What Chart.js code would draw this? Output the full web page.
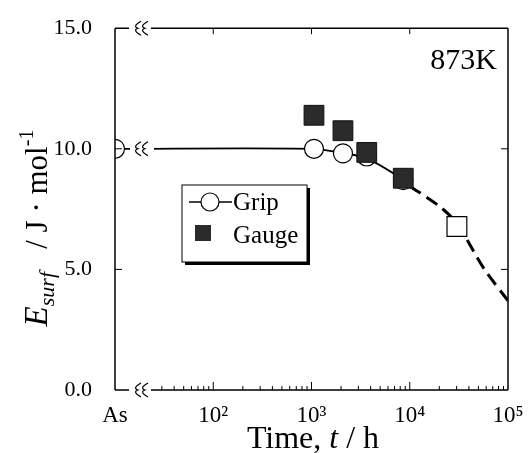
<!DOCTYPE html>
<html>
<head>
<meta charset="utf-8">
<script src="https://cdn.jsdelivr.net/npm/chart.js@4/dist/chart.umd.min.js"></script>
<style>
  html, body { margin: 0; padding: 0; background: #fff; }
  #wrap { width: 532px; height: 453px; }
</style>
</head>
<body>
<div id="wrap"><canvas id="chart" width="532" height="453"></canvas></div>
<script>
// x = 10 stands for the as-received ("As") state
const gripTimes = [10, 1060, 2090, 3650, 8590];
const gripValues = [10.0, 10.0, 9.81, 9.68, 8.7];
const gaugeTimes = [1060, 2090, 3650, 8590];
const gaugeValues = [11.39, 10.75, 9.85, 8.78];
const openTimes = [30200];
const openValues = [6.78];
const fitTimes = [10, 1060, 2090, 3650, 8590, 10000];
const fitValues = [10.0, 10.0, 9.82, 9.6, 8.72, 8.45];
const dashTimes = [10000, 20000, 30200, 57000, 100000];
const dashValues = [8.45, 7.62, 6.9, 5.03, 3.7];
const xTicks = [10, 100, 1000, 10000, 100000];
const xTickLabels = ['As', '10²', '10³', '10⁴', '10⁵'];
const yTicks = [0, 5, 10, 15];

const SERIF = '"Liberation Serif", "DejaVu Serif", serif';
const toPts = (xs, ys) => xs.map((x, i) => ({ x, y: ys[i] }));

// ------------------------------------------------------------
// Frame, inward ticks, axis breaks, legend, titles
// ------------------------------------------------------------
function breakMark(ctx, x, y) {
  ctx.save();
  ctx.lineWidth = 1.2;
  ctx.strokeStyle = '#000';
  [0, 7].forEach(dx => {
    ctx.beginPath();
    ctx.moveTo(x + dx + 4, y - 7);
    ctx.quadraticCurveTo(x + dx - 5, y - 2, x + dx + 1, y);
    ctx.quadraticCurveTo(x + dx - 5, y + 2, x + dx + 4, y + 7);
    ctx.stroke();
  });
  ctx.restore();
}

const framePlugin = {
  id: 'frame',
  afterDatasetsDraw(chart) {
    const { ctx, chartArea: a, scales: { y } } = chart;
    const bx = a.left + 25;

    // gap + break on the fitted line at the As level
    const ly = y.getPixelForValue(fitValues[0]);
    ctx.save();
    ctx.fillStyle = '#fff';
    ctx.fillRect(bx - 10, ly - 4, 24, 8);
    ctx.restore();
    breakMark(ctx, bx - 3, ly);
  },
  afterDraw(chart) {
    const { ctx, chartArea: a, scales: { x, y } } = chart;
    const bx = a.left + 25;
    ctx.save();
    ctx.strokeStyle = '#000';
    ctx.lineWidth = 1.5;
    ctx.beginPath();
    ctx.moveTo(a.left, a.top); ctx.lineTo(a.left, a.bottom);
    ctx.moveTo(a.right, a.top); ctx.lineTo(a.right, a.bottom);
    [a.top, a.bottom].forEach(yy => {
      ctx.moveTo(a.left, yy); ctx.lineTo(bx - 11, yy);
      ctx.moveTo(bx + 11, yy); ctx.lineTo(a.right, yy);
    });
    ctx.stroke();
    breakMark(ctx, bx - 3, a.top);
    breakMark(ctx, bx - 3, a.bottom);

    ctx.lineWidth = 1;
    ctx.beginPath();
    // bottom: majors + minors after the break
    for (let d = 1; d <= 4; d++) {
      for (let m = 1; m <= 9; m++) {
        const v = m * Math.pow(10, d);
        if (v < 30) continue;
        const px = x.getPixelForValue(v);
        const len = m === 1 ? 8 : 4;
        ctx.moveTo(px, a.bottom); ctx.lineTo(px, a.bottom - len);
      }
    }
    // top: majors only
    [100, 1000, 10000].forEach(v => {
      const px = x.getPixelForValue(v);
      ctx.moveTo(px, a.top); ctx.lineTo(px, a.top + 6);
    });
    // left / right
    [5, 10].forEach(v => {
      const py = y.getPixelForValue(v);
      ctx.moveTo(a.left, py); ctx.lineTo(a.left + 7, py);
      ctx.moveTo(a.right, py); ctx.lineTo(a.right - 7, py);
    });
    ctx.stroke();

    // temperature label
    ctx.fillStyle = '#000';
    ctx.font = '30px ' + SERIF;
    ctx.textAlign = 'right';
    ctx.textBaseline = 'alphabetic';
    ctx.fillText('873K', a.right - 11, a.top + 41);

    // legend box with shadow
    const lx = 182, ly = 185, lw = 125, lh = 77;
    ctx.fillStyle = '#000';
    ctx.fillRect(lx + 3, ly + 3, lw, lh);
    ctx.fillStyle = '#fff';
    ctx.fillRect(lx, ly, lw, lh);
    ctx.lineWidth = 1;
    ctx.strokeRect(lx, ly, lw, lh);
    // Grip entry
    ctx.beginPath();
    ctx.moveTo(lx + 7, ly + 17); ctx.lineTo(lx + 50, ly + 17);
    ctx.lineWidth = 1.5;
    ctx.stroke();
    ctx.beginPath();
    ctx.arc(lx + 28, ly + 17, 9, 0, Math.PI * 2);
    ctx.fillStyle = '#fff';
    ctx.fill();
    ctx.lineWidth = 1.2;
    ctx.stroke();
    // Gauge entry
    ctx.fillStyle = '#2b2b2b';
    ctx.fillRect(lx + 13, ly + 40, 16, 16);
    ctx.fillStyle = '#000';
    ctx.font = '25px ' + SERIF;
    ctx.textAlign = 'left';
    ctx.fillText('Grip', lx + 51, ly + 25);
    ctx.fillText('Gauge', lx + 51, ly + 58);

    // x title
    const TF = 32;
    ctx.font = TF + 'px ' + SERIF;
    const p1 = 'Time, ', p2 = 't', p3 = ' / h';
    const w1 = ctx.measureText(p1).width;
    const w3 = ctx.measureText(p3).width;
    ctx.font = 'italic ' + TF + 'px ' + SERIF;
    const w2 = ctx.measureText(p2).width;
    let tx = 313 - (w1 + w2 + w3) / 2;
    const ty = 448;
    ctx.font = TF + 'px ' + SERIF;
    ctx.fillText(p1, tx, ty); tx += w1;
    ctx.font = 'italic ' + TF + 'px ' + SERIF;
    ctx.fillText(p2, tx, ty); tx += w2;
    ctx.font = TF + 'px ' + SERIF;
    ctx.fillText(p3, tx, ty);

    // y title, rotated
    ctx.save();
    ctx.translate(47, 228);
    ctx.rotate(-Math.PI / 2);
    const parts = [
      { t: 'E', f: 'italic 33px ' + SERIF, dy: 0 },
      { t: 'surf', f: 'italic 22px ' + SERIF, dy: 7 },
      { t: '   / J · mol', f: '31px ' + SERIF, dy: 0 },
      { t: '-1', f: '20px ' + SERIF, dy: -14 }
    ];
    let total = 0;
    parts.forEach(p => { ctx.font = p.f; p.w = ctx.measureText(p.t).width; total += p.w; });
    let px = -total / 2;
    parts.forEach(p => { ctx.font = p.f; ctx.fillText(p.t, px, p.dy); px += p.w; });
    ctx.restore();

    ctx.restore();
  }
};

new Chart(document.getElementById('chart'), {
  type: 'scatter',
  data: {
    datasets: [
      {
        label: 'Gauge',
        data: toPts(gaugeTimes, gaugeValues),
        pointStyle: 'rect',
        pointRadius: 14,
        backgroundColor: '#2b2b2b',
        borderColor: '#111',
        borderWidth: 1,
        order: 0
      },
      {
        label: 'Grip',
        data: toPts(gripTimes, gripValues),
        pointStyle: 'circle',
        pointRadius: 9.5,
        backgroundColor: '#fff',
        borderColor: '#000',
        borderWidth: 1.2,
        order: 1
      },
      {
        label: 'Grip (open square)',
        data: toPts(openTimes, openValues),
        pointStyle: 'rect',
        pointRadius: 14,
        backgroundColor: '#fff',
        borderColor: '#000',
        borderWidth: 1.2,
        order: 1
      },
      {
        label: 'fit',
        data: toPts(fitTimes, fitValues),
        showLine: true,
        pointRadius: 0,
        borderColor: '#000',
        borderWidth: 1.8,
        tension: 0.3,
        order: 2
      },
      {
        label: 'fit (extrapolated)',
        data: toPts(dashTimes, dashValues),
        showLine: true,
        pointRadius: 0,
        borderColor: '#000',
        borderWidth: 3,
        borderDash: [13, 7],
        tension: 0.3,
        order: 2
      }
    ]
  },
  options: {
    responsive: false,
    animation: false,
    devicePixelRatio: 1,
    layout: { padding: { top: 26, right: 24, left: 0, bottom: 0 } },
    plugins: {
      legend: { display: false },
      tooltip: { enabled: false }
    },
    scales: {
      x: {
        type: 'logarithmic',
        min: 10,
        max: 100000,
        grid: { display: false },
        border: { display: false },
        afterBuildTicks: scale => { scale.ticks = xTicks.map(v => ({ value: v })); },
        afterFit: scale => { scale.height = 63; },
        ticks: {
          color: '#000',
          font: { family: SERIF, size: 23 },
          padding: 4,
          maxRotation: 0,
          autoSkip: false,
          callback: (v) => xTickLabels[xTicks.indexOf(v)]
        }
      },
      y: {
        min: 0,
        max: 15,
        grid: { display: false },
        border: { display: false },
        afterBuildTicks: scale => { scale.ticks = yTicks.map(v => ({ value: v })); },
        afterFit: scale => { scale.width = 115; },
        ticks: {
          color: '#000',
          font: { family: SERIF, size: 22 },
          padding: 15,
          callback: v => v.toFixed(1)
        }
      }
    }
  },
  plugins: [framePlugin]
});
</script>
</body>
</html>
